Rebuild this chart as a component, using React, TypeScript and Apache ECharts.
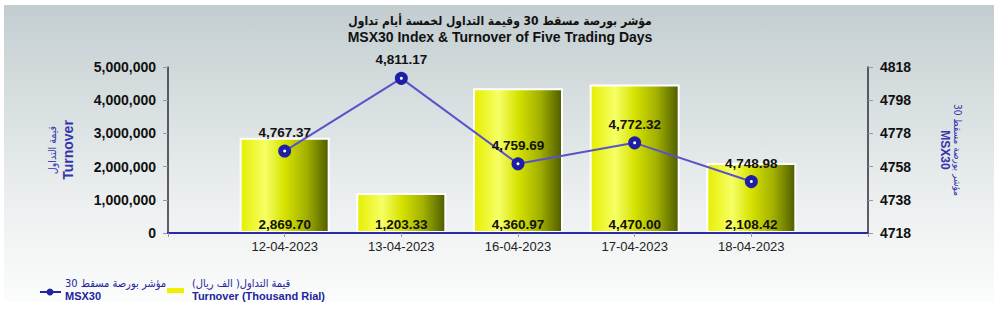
import React, { useEffect, useRef } from "react";
import * as echarts from "echarts";

// Trading days shown on the category axis
const dates = ["12-04-2023", "13-04-2023", "16-04-2023", "17-04-2023", "18-04-2023"];
// Turnover, thousand rial
const turnover = [2869.7, 1203.33, 4360.97, 4470.0, 2108.42];
// MSX30 index close
const msx30 = [4767.37, 4811.17, 4759.69, 4772.32, 4748.98];

// Left axis (turnover, in thousands) and right axis (index) ranges
const turnoverAxis = { min: 0, max: 5000, step: 1000 };
const indexAxis = { min: 4718, max: 4818, step: 20 };

const titleAr = "مؤشر بورصة مسقط 30 وقيمة التداول لخمسة أيام تداول";
const titleEn = "MSX30 Index & Turnover of Five Trading Days";
const turnoverNameAr = "قيمة التداول";
const turnoverNameEn = "Turnover";
const indexNameAr = "مؤشر بورصة مسقط 30";
const indexNameEn = "MSX30";
const legendTurnoverAr = "قيمة التداول( الف ريال)";
const legendTurnoverEn = "Turnover (Thousand Rial)";

const FONT = 'Arial, "Liberation Sans", "DejaVu Sans", sans-serif';
const AR_FONT = '"DejaVu Sans Condensed", "DejaVu Sans", Arial, sans-serif';
const NAVY = "#24249c";
const NAME_BLUE = "#3434ac";

const fmt2 = (v: number) =>
  v.toLocaleString("en-US", { minimumFractionDigits: 2, maximumFractionDigits: 2 });

export default function App() {
  const ref = useRef<HTMLDivElement>(null);

  useEffect(() => {
    if (!ref.current) return;
    const chart = echarts.init(ref.current, null, { renderer: "svg" });

    // blank end slots so the five days sit inside the axis span
    const categories = ["", ...dates, ""];
    const barData = [null, ...turnover, null];
    const lineData = [null, ...msx30, null];

    const barGradient = new echarts.graphic.LinearGradient(0, 0, 1, 0, [
      { offset: 0, color: "#e6ee00" },
      { offset: 0.28, color: "#f6ff66" },
      { offset: 0.5, color: "#d6e200" },
      { offset: 0.75, color: "#a2b000" },
      { offset: 1, color: "#4e5c00" },
    ]);

    chart.setOption({
      animation: false,
      textStyle: { fontFamily: FONT },
      title: {
        text: titleAr,
        subtext: titleEn,
        left: "center",
        top: 13,
        padding: 0,
        itemGap: 0,
        textStyle: { fontFamily: AR_FONT, fontSize: 12, fontWeight: "bold", color: "#111", lineHeight: 16 },
        subtextStyle: { fontFamily: FONT, fontSize: 14, fontWeight: "bold", color: "#111", lineHeight: 16 },
      },
      grid: { left: 168, right: 132, top: 67, bottom: 87 },
      xAxis: {
        type: "category",
        data: categories,
        boundaryGap: false,
        z: 5,
        axisLine: { lineStyle: { color: "#2a2aa8", width: 2 } },
        axisTick: { length: 4, lineStyle: { color: "#999" } },
        axisLabel: { fontSize: 13, color: "#222", margin: 7, fontFamily: FONT },
        splitLine: { show: false },
      },
      yAxis: [
        {
          type: "value",
          min: turnoverAxis.min,
          max: turnoverAxis.max,
          interval: turnoverAxis.step,
          position: "left",
          name: `{ar|${turnoverNameAr}}\n{en|${turnoverNameEn}}`,
          nameLocation: "middle",
          nameRotate: 90,
          nameGap: 92,
          nameTextStyle: {
            color: NAME_BLUE,
            rich: {
              ar: { fontSize: 10.5, color: NAME_BLUE, lineHeight: 16, fontFamily: AR_FONT },
              en: { fontSize: 14, fontWeight: "bold", color: NAME_BLUE, lineHeight: 16, fontFamily: FONT },
            },
          },
          axisLine: { show: true, lineStyle: { color: "#2b2b3a", width: 1.5 } },
          axisTick: { show: true, length: 5, lineStyle: { color: "#999" } },
          axisLabel: {
            fontSize: 14,
            fontWeight: "bold",
            color: "#111",
            margin: 12,
            fontFamily: FONT,
            formatter: (v: number) => (v * 1000).toLocaleString("en-US"),
          },
          splitLine: { show: false },
        },
        {
          type: "value",
          min: indexAxis.min,
          max: indexAxis.max,
          interval: indexAxis.step,
          position: "right",
          name: `{ar|${indexNameAr}}\n{en|${indexNameEn}}`,
          nameLocation: "middle",
          nameRotate: -90,
          nameGap: 70,
          nameTextStyle: {
            color: NAME_BLUE,
            rich: {
              ar: { fontSize: 10, color: NAME_BLUE, lineHeight: 13, fontFamily: AR_FONT },
              en: { fontSize: 12, fontWeight: "bold", color: NAME_BLUE, lineHeight: 13, fontFamily: FONT },
            },
          },
          axisLine: { show: true, lineStyle: { color: "#2b2b3a", width: 1.5 } },
          axisTick: { show: true, length: 5, lineStyle: { color: "#999" } },
          axisLabel: {
            fontSize: 14,
            fontWeight: "bold",
            color: "#111",
            margin: 12,
            fontFamily: FONT,
            formatter: (v: number) => String(v),
          },
          splitLine: { show: false },
        },
      ],
      series: [
        {
          name: "Turnover",
          type: "bar",
          yAxisIndex: 0,
          data: barData,
          barWidth: 90,
          itemStyle: { color: barGradient, borderColor: "#ffffff", borderWidth: 2 },
          label: {
            show: true,
            position: "insideBottom",
            distance: 2,
            fontSize: 13.5,
            fontWeight: "bold",
            color: "#111",
            fontFamily: FONT,
            formatter: (p: any) => fmt2(p.value),
          },
        },
        {
          name: "MSX30",
          type: "line",
          yAxisIndex: 1,
          data: lineData,
          connectNulls: false,
          symbol: "circle",
          symbolSize: 8,
          lineStyle: { color: "#5a52c8", width: 2 },
          itemStyle: { color: "#ffffff", borderColor: "#1f1fa5", borderWidth: 5 },
          label: {
            show: true,
            position: "top",
            distance: 5,
            fontSize: 13.5,
            fontWeight: "bold",
            color: "#111",
            fontFamily: FONT,
            formatter: (p: any) => fmt2(p.value),
          },
          z: 4,
        },
      ],
      graphic: [
        // legend: MSX30 line
        {
          type: "line",
          shape: { x1: 40, y1: 292, x2: 61, y2: 292 },
          style: { stroke: NAVY, lineWidth: 2 },
        },
        { type: "circle", shape: { cx: 50, cy: 292, r: 3.5 }, style: { fill: NAVY } },
        {
          type: "text",
          x: 65,
          y: 283,
          style: { text: indexNameAr, font: `11px ${AR_FONT}`, fill: NAVY, verticalAlign: "middle" },
        },
        {
          type: "text",
          x: 65,
          y: 296,
          style: { text: indexNameEn, font: `bold 11px ${FONT}`, fill: NAVY, verticalAlign: "middle" },
        },
        // legend: turnover bars
        {
          type: "rect",
          shape: { x: 167, y: 288, width: 17, height: 5 },
          style: { fill: "#eef200" },
        },
        {
          type: "text",
          x: 192,
          y: 283,
          style: { text: legendTurnoverAr, font: `11px ${AR_FONT}`, fill: NAVY, verticalAlign: "middle" },
        },
        {
          type: "text",
          x: 192,
          y: 296,
          style: { text: legendTurnoverEn, font: `bold 11px ${FONT}`, fill: NAVY, verticalAlign: "middle" },
        },
      ],
    });

    return () => chart.dispose();
  }, []);

  return (
    <div style={{ position: "absolute", left: 0, top: 0, width: 1000, height: 320, background: "#ffffff" }}>
      <div
        style={{
          position: "absolute",
          left: 4,
          top: 5,
          width: 990,
          height: 297,
          background: "linear-gradient(to bottom, #c3cdd0 0%, #d9e0e1 35%, #eef1f1 70%, #fbfcfc 100%)",
        }}
      />
      <div ref={ref} style={{ position: "absolute", left: 0, top: 0, width: 1000, height: 320 }} />
    </div>
  );
}
